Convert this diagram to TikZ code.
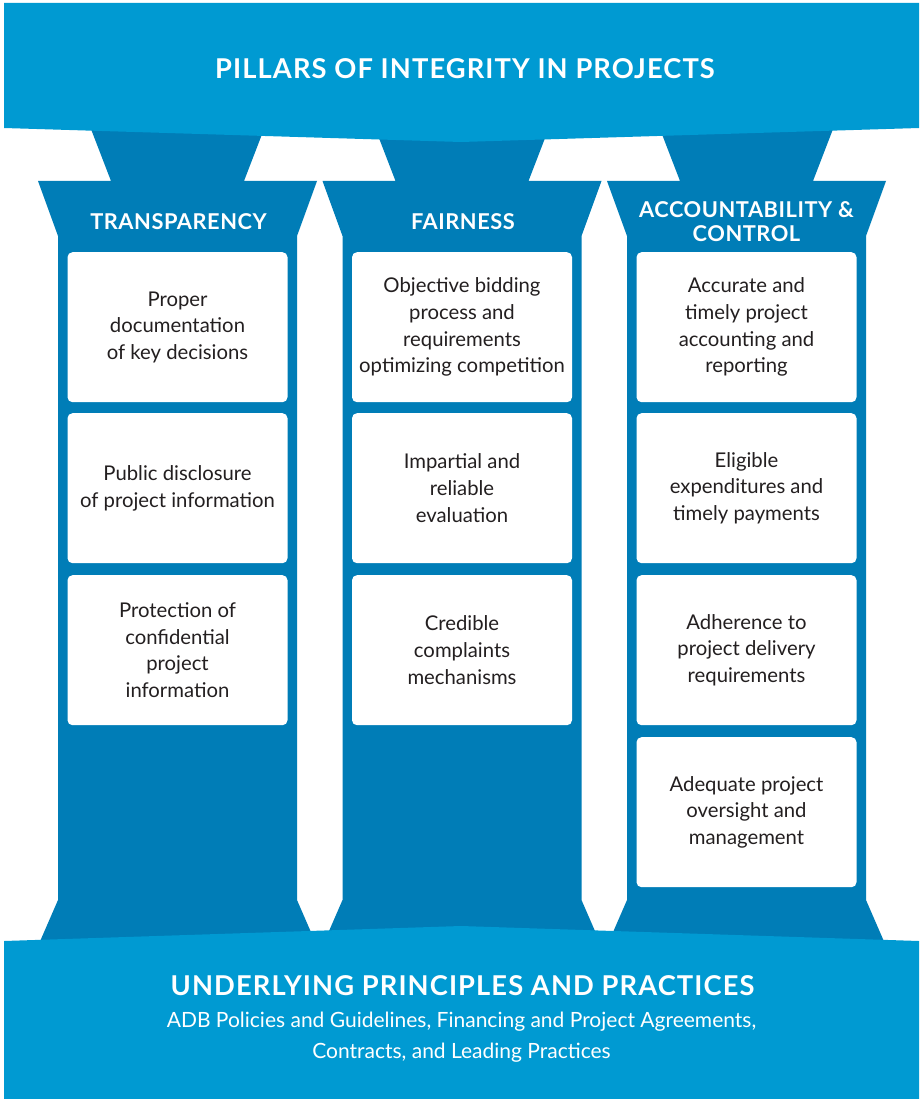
\documentclass[tikz,border=0pt]{standalone}
\usepackage{fontspec}
\setmainfont{Lato}
\newfontfamily\hfont[LetterSpace=2.5]{Lato}
\newfontfamily\bhfont[LetterSpace=4]{Lato}
\definecolor{roofblue}{RGB}{0,154,210}
\definecolor{colblue}{RGB}{0,125,183}
\definecolor{txtgray}{RGB}{35,31,32}
\begin{document}
\begin{tikzpicture}[x=1pt,y=-1pt,
  stone/.style={fill=colblue,draw=none},
  slab/.style={fill=roofblue,draw=none},
  card/.style={fill=white,draw=none,rounded corners=5pt,minimum width=220pt,minimum height=150pt,
    inner sep=0pt,align=center,text=txtgray,font=\fontsize{20.3}{26.7}\selectfont,anchor=north},
  head/.style={text=white,align=center,font=\hfont\bfseries\fontsize{21.8}{24}\selectfont},
  bighead/.style={text=white,align=center,font=\bhfont\bfseries\fontsize{27.3}{30}\selectfont},
  subtext/.style={text=white,align=center,font=\fontsize{21}{31}\selectfont}]
\useasboundingbox (0,0) rectangle (922,1099);
\fill[white] (0,0) rectangle (922,1099);
% columns
\foreach \c in {177.5,462,746.5}{
  \fill[stone] (\c-90,120) -- (\c+90,120) -- (\c+66.5,181) -- (\c+139.5,181)
     -- (\c+119.5,236) -- (\c+119.5,900) -- (\c+139.5,946) -- (\c-139.5,946)
     -- (\c-119.5,900) -- (\c-119.5,236) -- (\c-139.5,181) -- (\c-66.5,181) -- cycle;
}
% roof and base
\fill[slab] (4,3) -- (919,3) -- (919,128) -- (461,142) -- (4,128) -- cycle;
\fill[slab] (4,941) -- (461,926) -- (919,941) -- (919,1099) -- (4,1099) -- cycle;
% titles
\node[bighead] (title) at (465,69) {PILLARS OF INTEGRITY IN PROJECTS};
\node[bighead] (base) at (462.5,986) {UNDERLYING PRINCIPLES AND PRACTICES};
\node[subtext] (basesub) at (461.5,1037) {ADB Policies and Guidelines, Financing and Project Agreements,\\Contracts, and Leading Practices};
% column heads
\node[head] (h1) at (178.5,221.5) {TRANSPARENCY};
\node[head] (h2) at (463,221.5) {FAIRNESS};
\node[head] (h3) at (746.5,221.5) {ACCOUNTABILITY \&\\CONTROL};
% cards column 1
\node[card] (t1) at (177.5,252) {Proper\\documentation\\of key decisions};
\node[card] (t2) at (177.5,413) {Public disclosure\\of project information};
\node[card] (t3) at (177.5,575) {Protection of\\confidential\\project\\information};
% cards column 2
\node[card] (f1) at (462,252) {Objective bidding\\process and\\requirements\\optimizing competition};
\node[card] (f2) at (462,413) {Impartial and\\reliable\\evaluation};
\node[card] (f3) at (462,575) {Credible\\complaints\\mechanisms};
% cards column 3
\node[card] (a1) at (746.5,252) {Accurate and\\timely project\\accounting and\\reporting};
\node[card] (a2) at (746.5,413) {Eligible\\expenditures and\\timely payments};
\node[card] (a3) at (746.5,575) {Adherence to\\project delivery\\requirements};
\node[card] (a4) at (746.5,737) {Adequate project\\oversight and\\management};
\end{tikzpicture}
\end{document}
